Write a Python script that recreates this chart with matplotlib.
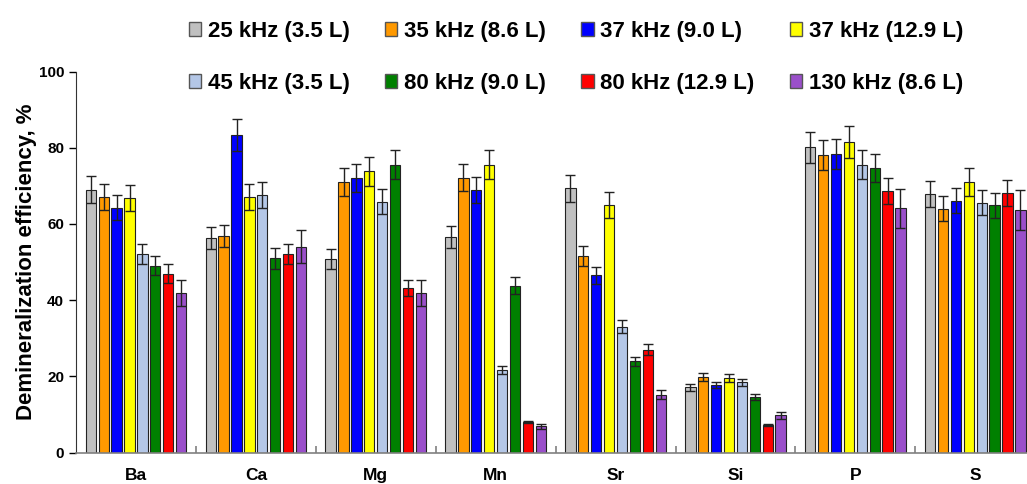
import numpy as np
import matplotlib.pyplot as plt
from matplotlib.patches import Patch

plt.rcParams['font.family'] = ['Liberation Sans', 'DejaVu Sans']
plt.rcParams['font.weight'] = 'bold'

elements = ['Ba', 'Ca', 'Mg', 'Mn', 'Sr', 'Si', 'P', 'S']

labels = ['25 kHz (3.5 L)', '35 kHz (8.6 L)', '37 kHz (9.0 L)', '37 kHz (12.9 L)',
          '45 kHz (3.5 L)', '80 kHz (9.0 L)', '80 kHz (12.9 L)', '130 kHz (8.6 L)']
colors = ['#c0c0c0', '#ff9900', '#0000ff', '#ffff00',
          '#b4c7e7', '#008000', '#ff0000', '#9a4fca']

# one row per setup, one column per element
eff_25 = [69.0, 56.4, 50.8, 56.5, 69.4, 17.1, 80.1, 67.8]
eff_35 = [67.0, 56.8, 71.0, 72.2, 51.5, 19.9, 78.2, 64.0]
eff_37a = [64.3, 83.3, 72.1, 68.9, 46.5, 17.7, 78.4, 66.1]
eff_37b = [66.8, 67.2, 73.8, 75.5, 65.0, 19.6, 81.5, 71.0]
eff_45 = [52.1, 67.7, 65.8, 21.6, 33.0, 18.4, 75.6, 65.6]
eff_80a = [49.0, 51.0, 75.5, 43.8, 24.0, 14.5, 74.7, 64.9]
eff_80b = [47.0, 52.1, 43.1, 8.0, 27.0, 7.2, 68.7, 68.1]
eff_130 = [42.0, 54.0, 41.8, 6.9, 15.2, 9.8, 64.1, 63.6]

err_25 = [3.5, 2.9, 2.6, 2.9, 3.5, 0.9, 4.0, 3.4]
err_35 = [3.4, 2.9, 3.6, 3.6, 2.6, 1.0, 3.9, 3.3]
err_37a = [3.2, 4.2, 3.7, 3.5, 2.3, 0.8, 4.0, 3.3]
err_37b = [3.4, 3.4, 3.8, 3.8, 3.3, 1.0, 4.2, 3.6]
err_45 = [2.6, 3.4, 3.3, 1.1, 1.7, 0.9, 3.8, 3.3]
err_80a = [2.5, 2.7, 3.8, 2.2, 1.2, 0.75, 3.7, 3.3]
err_80b = [2.5, 2.6, 2.1, 0.3, 1.4, 0.3, 3.5, 3.5]
err_130 = [3.4, 4.3, 3.4, 0.6, 1.2, 0.9, 5.2, 5.2]

values = [eff_25, eff_35, eff_37a, eff_37b, eff_45, eff_80a, eff_80b, eff_130]
errors = [err_25, err_35, err_37a, err_37b, err_45, err_80a, err_80b, err_130]

fig = plt.figure(figsize=(10.27, 4.84), dpi=100)
ax = fig.add_axes([0.074, 0.065, 0.934, 0.787])

x = np.arange(len(elements))
step = 0.1075
width = 0.086
for i in range(len(values)):
    pos = x + (i - 3.5) * step
    ax.bar(pos, values[i], width, color=colors[i], edgecolor='#222222',
           linewidth=0.8, zorder=2)
    ax.errorbar(pos, values[i], yerr=errors[i], fmt='none', ecolor='#222222',
                elinewidth=1.0, capsize=3.5, capthick=1.0, zorder=3)

ax.set_xlim(-0.5, len(elements) - 0.5)
ax.set_ylim(0, 100)
ax.set_yticks(range(0, 101, 20))
ax.set_xticks(x)
ax.set_xticklabels(elements, fontsize=12.5, fontweight='bold')
ax.set_xticks(x[:-1] + 0.5, minor=True)
ax.tick_params(axis='x', which='major', length=0, pad=11)
ax.tick_params(axis='x', which='minor', direction='in', length=5,
               color='#808080', width=1.2)
ax.tick_params(axis='y', direction='out', length=5, labelsize=11, width=1.0)
for t in ax.get_yticklabels():
    t.set_fontweight('bold')

ax.spines['top'].set_visible(False)
ax.spines['right'].set_visible(False)
ax.spines['bottom'].set_color('#808080')
ax.spines['bottom'].set_linewidth(1.2)
ax.spines['left'].set_color('#333333')

ax.set_ylabel('Demineralization efficiency, %', fontsize=16, fontweight='bold',
              labelpad=1)

# legend fills column-wise, so reorder to read across the rows
handles = [Patch(facecolor=c, edgecolor='#555555', linewidth=1.0) for c in colors]
order = [0, 4, 1, 5, 2, 6, 3, 7]
fig.legend([handles[k] for k in order], [labels[k] for k in order],
           ncol=4, loc='upper left', bbox_to_anchor=(0.173, 0.98),
           frameon=False, prop={'size': 16, 'weight': 'bold'}, borderpad=0,
           handlelength=0.55, handleheight=0.55, handletextpad=0.3,
           columnspacing=1.6, labelspacing=1.4)

fig.savefig('out.png', dpi=100)
